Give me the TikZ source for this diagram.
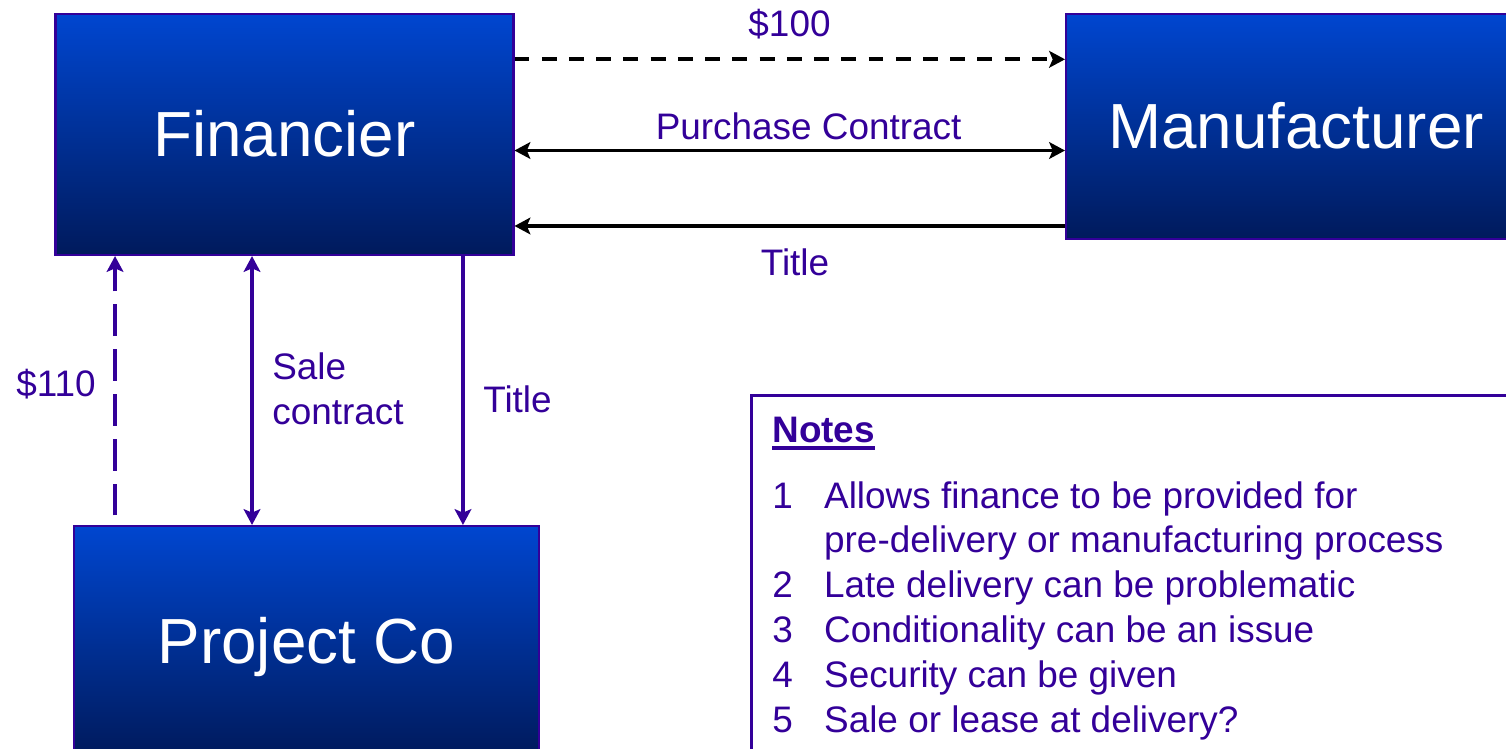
\documentclass[tikz,border=0pt]{standalone}
\usepackage{fontspec}
\setmainfont{Liberation Sans}
\usetikzlibrary{arrows.meta}
\definecolor{deeppurple}{RGB}{51,0,153}
\definecolor{boxtop}{RGB}{0,70,208}
\definecolor{boxmid}{RGB}{0,50,162}
\definecolor{boxbot}{RGB}{0,26,92}
% heavy underline for the panel heading
\newcommand\thickul[1]{\setbox0\hbox{#1}\rlap{\rule[-4.3pt]{\wd0}{2pt}}\box0}
\tikzset{
  party/.style={draw=deeppurple, line width=1.2pt, top color=boxtop, middle color=boxmid,
    bottom color=boxbot, text=white, font=\fontsize{36.3}{40}\selectfont,
    text height=25.4pt, text depth=0pt, inner sep=0pt},
  lbl/.style={text=deeppurple, font=\fontsize{21}{25.5}\selectfont, inner sep=0pt},
  flow/.style={black, line width=2.1pt},
  money/.style={flow, dash pattern=on 8.5pt off 7pt},
  deal/.style={deeppurple, line width=2pt},
  cash/.style={deal, dash pattern=on 18pt off 7.5pt, dash phase=20pt}
}

\begin{document}
\begin{tikzpicture}[x=0.02cm, y=-0.02cm, >={Stealth[length=9pt,width=9.5pt,inset=2pt]}]
\useasboundingbox (0,0) rectangle (1506,748);

% the three parties
\node[party, minimum width=9.16cm, minimum height=4.82cm] (fin) at (284.5,134.5) {Financier};
\node[party, minimum width=9.2cm, minimum height=4.5cm] (man) at (1296,126.5) {Manufacturer};
\node[party, minimum width=9.3cm, minimum height=4.6cm] (proj) at (306.5,641) {Project Co};

% financier <-> manufacturer
\coordinate (f1) at ([yshift=1.504cm]fin.east);
\coordinate (f2) at ([yshift=-0.32cm]fin.east);
\coordinate (f3) at ([yshift=-1.83cm]fin.east);
\draw[money, ->] (f1) -- (man.west |- f1);
\draw[flow, <->] (f2) -- (man.west |- f2);
\draw[flow, <-] (f3) -- (man.west |- f3);
\node[lbl, anchor=base] (pay) at (789.5,36.7) {\$100};
\node[lbl, anchor=base] (pc) at (808.6,139.3) {Purchase Contract};
\node[lbl, anchor=base] (title1) at (795,275) {Title};

% financier <-> project co
\coordinate (g1) at ([xshift=-3.39cm]fin.south);
\coordinate (g2) at ([xshift=-0.65cm]fin.south);
\coordinate (g3) at ([xshift=3.57cm]fin.south);
\draw[cash, ->] (proj.north -| g1) -- (g1);
\draw[deal, <->] (g2) -- (proj.north -| g2);
\draw[deal, ->] (g3) -- (proj.north -| g3);
\node[lbl, anchor=base east] (repay) at (96,396) {\$110};
\node[lbl, anchor=base west, align=left] (sc) at (272,424) {Sale\\contract};
\node[lbl, anchor=base west] (title2) at (483,412) {Title};

% notes panel
\node[draw=deeppurple, line width=1.5pt, anchor=north west, minimum width=16cm,
  minimum height=8cm] (notes) at (750,394) {};
\node[lbl, anchor=base west] (nhead) at (772,442) {\bfseries\thickul{Notes}};
\node[lbl, anchor=base west] (nlist) at (772,508) {%
  \begin{tabular}[t]{@{}p{29.5pt}@{}l@{}}
  1 & Allows finance to be provided for\\
    & pre-delivery or manufacturing process\\
  2 & Late delivery can be problematic\\
  3 & Conditionality can be an issue\\
  4 & Security can be given\\
  5 & Sale or lease at delivery?
  \end{tabular}};
\end{tikzpicture}
\end{document}
